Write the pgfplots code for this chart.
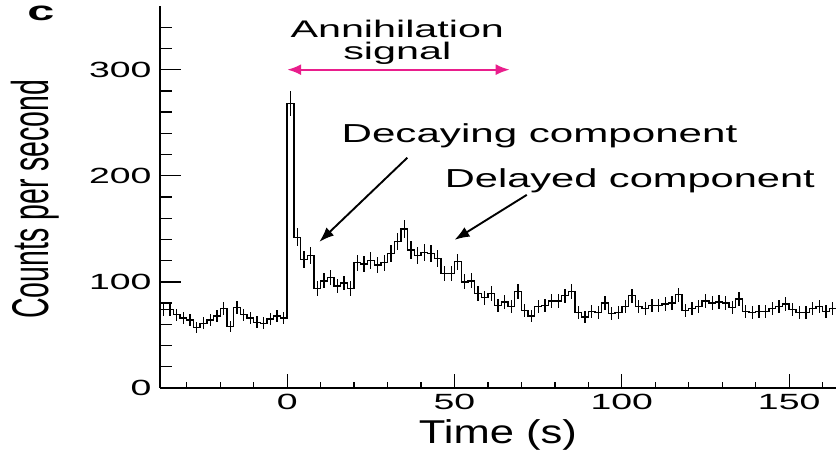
\documentclass[border=0pt]{standalone}
\usepackage{fontspec}
\setmainfont{Liberation Sans}
\usepackage{graphicx}
\usepackage{pgfplots}
\pgfplotsset{compat=1.18}
\usepackage{pgfplotstable}
\usetikzlibrary{arrows.meta}

\definecolor{signalpink}{RGB}{233,30,140}
% horizontally widened text
\newcommand{\hs}[2]{\scalebox{#1}[1]{#2}}
\newcommand{\tickfont}{\fontsize{22bp}{24bp}\selectfont}
\newcommand{\annofont}{\fontsize{26bp}{28bp}\selectfont}
\newcommand{\topfont}{\fontsize{24bp}{26bp}\selectfont}

% count rate in 2 s bins: t = left edge of bin (s), y = counts per second, e = 1 sigma
\pgfplotstableread{
t    y    e
-38  74   6.1
-36  74   6.1
-34  69   5.9
-32  66   5.7
-30  64   5.7
-28  57   5.3
-26  61   5.5
-24  64   5.7
-22  68   5.8
-20  75   6.1
-18  58   5.4
-16  76   6.2
-14  69   5.9
-12  66   5.7
-10  62   5.6
-8   61   5.5
-6   65   5.7
-4   68   5.8
-2   66   5.7
0    268  11.6
2    142  8.4
4    121  7.8
6    125  7.9
8    94   6.9
10   101  7.1
12   104  7.2
14   96   6.9
16   99   7.0
18   94   6.9
20   118  7.7
22   117  7.6
24   120  7.7
26   116  7.6
28   118  7.7
30   127  8.0
32   138  8.3
34   150  8.7
36   130  8.1
38   125  7.9
40   128  8.0
42   127  8.0
44   122  7.8
46   108  7.3
48   108  7.3
50   119  7.7
52   100  7.1
54   101  7.1
56   89   6.7
58   85   6.5
60   89   6.7
62   78   6.2
64   81   6.4
66   77   6.2
68   91   6.7
70   73   6.0
72   68   5.8
74   77   6.2
76   78   6.2
78   82   6.4
80   82   6.4
82   87   6.6
84   91   6.7
86   71   6.0
88   67   5.8
90   72   6.0
92   71   6.0
94   80   6.3
96   70   5.9
98   71   6.0
100  77   6.2
102  87   6.6
104  77   6.2
106  75   6.1
108  78   6.2
110  78   6.2
112  79   6.3
114  80   6.3
116  88   6.6
118  73   6.0
120  75   6.1
122  77   6.2
124  82   6.4
126  80   6.3
128  81   6.4
130  80   6.3
132  76   6.2
134  84   6.5
136  72   6.0
138  71   6.0
140  72   6.0
142  72   6.0
144  75   6.1
146  77   6.2
148  79   6.3
150  74   6.1
152  71   6.0
154  71   6.0
156  75   6.1
158  77   6.2
160  72   6.0
162  75   6.1
}\rates

\pgfplotsset{
  panel/.style={
    at={(160bp,63bp)}, anchor=south west,
    scale only axis, width=676bp, height=382bp,
    xmin=-38, xmax=164, ymin=0, ymax=360,
    tick align=inside,
    axis line style={line width=1.3bp, black},
    tick style={line width=1.3bp, black},
  }
}

\begin{document}
\begin{tikzpicture}
\useasboundingbox (0,0) rectangle (836bp,451bp);

% vertical axis with its own tick lengths
\begin{axis}[panel,
  axis x line=none, axis y line*=left,
  ytick={0,100,200,300},
  yticklabels={\hs{1.7}{0},\hs{1.7}{100},\hs{1.7}{200},\hs{1.7}{300}},
  minor ytick={20,40,...,340},
  major tick length=21bp, minor tick length=12bp,
  yticklabel style={font=\tickfont, xshift=-5bp},
]
\end{axis}

% horizontal axis, light curve and annotations
\begin{axis}[panel,
  axis y line=none, axis x line*=bottom,
  clip=false,
  xtick={0,50,100,150},
  xticklabels={\hs{1.7}{0},\hs{1.7}{50},\hs{1.7}{100},\hs{1.7}{150}},
  minor xtick={-30,-20,...,160},
  major tick length=14bp, minor tick length=6bp,
  xticklabel style={font=\tickfont, yshift=-3bp},
]
\addplot[const plot mark left, black, line width=1.35bp, mark=none]
  table[x=t, y=y] {\rates};
\addplot[const plot mark left, black, line width=1.35bp, mark=none]
  coordinates {(162,75) (164,75)};
\addplot[draw=none, mark=none,
  error bars/.cd, y dir=both, y explicit, error mark=none,
  error bar style={draw=black, line width=1.3bp, solid}]
  table[x expr=\thisrow{t}+1, y=y, y error=e] {\rates};

% panel letter and axis titles
\node[anchor=base, inner sep=0pt, font=\bfseries\fontsize{27bp}{29bp}\selectfont]
  at (axis cs:-73.6,346.5) {\hs{1.8}{c}};
\node[anchor=base, font=\fontsize{33bp}{35bp}\selectfont]
  at (axis cs:63,-52) {\hs{1.32}{Time (s)}};
\node[rotate=90, anchor=base, font=\fontsize{30bp}{32bp}\selectfont]
  at (axis cs:-71.3,178) {\scalebox{0.95}[1.72]{Counts per second}};

% annihilation window
\node[anchor=base, font=\topfont] at (axis cs:32.9,330.5) {\hs{1.72}{Annihilation}};
\node[anchor=base, font=\topfont] at (axis cs:32.9,310) {\hs{1.72}{signal}};
\draw[signalpink, line width=2.2bp,
  {Latex[length=14bp,width=11bp]}-{Latex[length=14bp,width=11bp]}]
  (axis cs:0,300) -- (axis cs:66.5,300);

% component labels
\node[anchor=base, font=\annofont] at (axis cs:75.4,231) {\hs{1.62}{Decaying component}};
\draw[line width=1.9bp, -{Latex[length=15bp,width=11bp]}]
  (axis cs:35.9,217) -- (axis cs:9.6,137.7);
\node[anchor=base, font=\annofont] at (axis cs:102.4,189) {\hs{1.6}{Delayed component}};
\draw[line width=1.9bp, -{Latex[length=15bp,width=11bp]}]
  (axis cs:71.6,182) -- (axis cs:50,139.6);
\end{axis}
\end{tikzpicture}
\end{document}
